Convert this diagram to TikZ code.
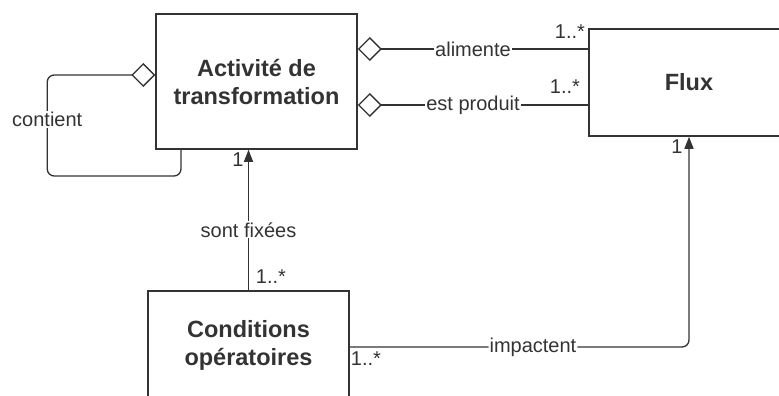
\documentclass[tikz,border=0pt]{standalone}
\usepackage{fontspec}
\setmainfont{Liberation Sans}
\usepackage{xcolor}
\usepackage{tikz}
\usetikzlibrary{arrows.meta,positioning,calc}
\definecolor{umlgray}{HTML}{333333}
\tikzstyle{classbox} = [rectangle, draw=umlgray, line width=1.5pt, fill=white, text=umlgray, align=center, font=\fontsize{23.5}{28}\selectfont\bfseries, minimum width=201pt, inner sep=0pt]
\tikzstyle{assoc} = [draw=umlgray, line width=1.3pt]
\tikzstyle{aggr} = [assoc, {Diamond[open,length=24pt,width=24pt]}-]
\tikzstyle{arrow} = [assoc, -{Triangle[length=12pt,width=9pt]}]
\tikzstyle{rolename} = [fill=white, text=umlgray, inner sep=1pt, font=\fontsize{20}{24}\selectfont]
\tikzstyle{mult} = [text=umlgray, inner sep=0pt, font=\fontsize{20}{24}\selectfont]

\begin{document}
\begin{tikzpicture}[x=1pt, y=-1pt]
    \useasboundingbox (0,0) rectangle (779,396);
    % classes
    \node[classbox, minimum height=135pt] (act) at (256.5,81.5) {Activité de\\transformation};
    \node[classbox, minimum width=200pt, minimum height=107pt] (flux) at (689,82.5) {Flux};
    \node[classbox, minimum height=108pt] (cond) at (248.5,345) {Conditions\\opératoires};
    % associations
    \draw[aggr] ([yshift=32.5pt]act.east) -- node[rolename] (alim) {alimente} ([yshift=33.5pt]flux.west);
    \draw[aggr] ([yshift=-23.5pt]act.east) -- node[rolename] (prod) {est produit} ([yshift=-22.5pt]flux.west);
    \draw[aggr, rounded corners=7pt] ([yshift=6.5pt]act.west) -- ++(-108,0) -- ++(0,101) node[rolename, pos=0.44] (cont) {contient} -| ([xshift=-75.5pt]act.south);
    \draw[arrow] (cond.north) -- node[rolename, pos=0.43] (fix) {sont fixées} (cond.north |- act.south);
    \draw[arrow, rounded corners=7pt] ([yshift=-2pt]cond.east) -| node[rolename, pos=0.27] (imp) {impactent} (flux.south);
    % multiplicities
    \node[mult] (malim) at (570,31.5) {1..*};
    \node[mult] (mprod) at (565,87) {1..*};
    \node[mult] (mfixa) at (238,160) {1};
    \node[mult] (mfixc) at (271,277) {1..*};
    \node[mult] (mimpc) at (366,359) {1..*};
    \node[mult] (mimpf) at (677,147) {1};
\end{tikzpicture}
\end{document}
